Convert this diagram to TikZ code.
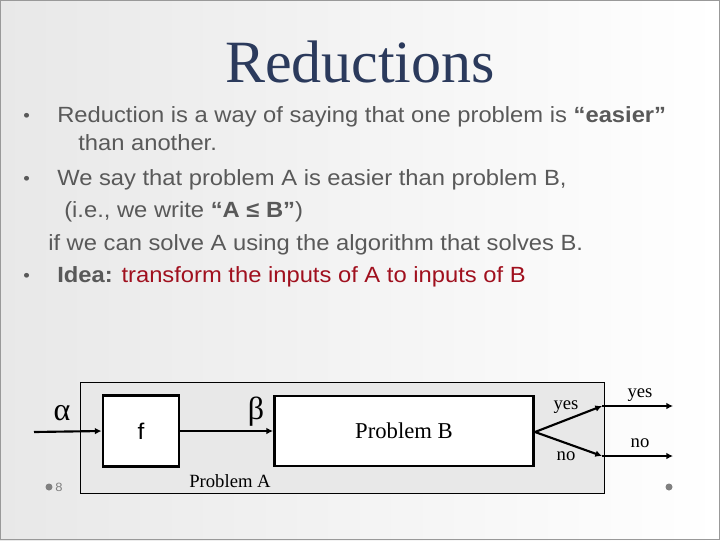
\documentclass[tikz,border=0pt]{standalone}
\usepackage{fontspec}
\setmainfont{Liberation Serif}
\setsansfont{Liberation Sans}[FakeStretch=1.08]
\usetikzlibrary{arrows.meta}
\definecolor{txt}{HTML}{595959}
\definecolor{ttl}{HTML}{2B3A5C}
\definecolor{red}{HTML}{A0101E}
\begin{document}
\begin{tikzpicture}[x=0.75pt,y=-0.75pt,
  bul/.style={anchor=base west,inner sep=0,text=txt,font=\sffamily\fontsize{16.5}{18}\selectfont},
  dot/.style={anchor=base west,inner sep=0,text=txt,font=\sffamily\fontsize{13}{14}\selectfont},
  blk/.style={draw,line width=2.2pt,fill=white,inner sep=0},
  lab/.style={font=\fontsize{14}{16}\selectfont,inner sep=0},
  arr/.style={line width=1.6pt,-{Latex[length=5pt,width=5pt]}}]
\useasboundingbox (0,0) rectangle (720,540);
\shade[left color=gray!18,right color=white] (0,0) rectangle (720,540);
\draw[gray!80,line width=1pt] (0.5,0.5) rectangle (719.5,539.5);
\node[inner sep=0,text=ttl,font=\fontsize{45}{50}\selectfont] (title) at (360,62) {Reductions};
\node[dot] (b1) at (23,121) {•};
\node[bul] (t1) at (57,122) {Reduction is a way of saying that one problem is \textbf{“easier”}};
\node[bul] (t1b) at (78,150) {than another.};
\node[dot] (b2) at (23,184) {•};
\node[bul] (t2) at (57,185) {We say that problem A is easier than problem B,};
\node[bul] (t2b) at (64,217) {(i.e., we write \textbf{“A ≤ B”})};
\node[bul] (t2c) at (48,250) {if we can solve A using the algorithm that solves B.};
\node[dot] (b3) at (23,281) {•};
\node[bul] (t3) at (57,282) {\textbf{Idea:} \textcolor{red}{transform the inputs of A to inputs of B}};
% diagram
\node[draw,fill=gray!18,line width=0.8pt,minimum width=393pt,minimum height=83.25pt,inner sep=0,anchor=north west] (pa) at (80,382) {};
\node[blk,minimum width=57pt,minimum height=53.25pt] (f) at (141,431) {\sffamily\fontsize{17}{18}\selectfont f};
\node[blk,minimum width=194.25pt,minimum height=52.5pt] (pb) at (404,431) {\fontsize{17}{18}\selectfont Problem B};
\coordinate (in) at (34,432);
\coordinate (fork) at (535,432);
\coordinate (ys) at (602,406);
\coordinate (ns) at (602,456);
\coordinate (ye) at (673,406);
\coordinate (ne) at (673,456);
\draw[arr] (in) -- (f.west);
\draw[arr] (f.east) -- (pb.west);
\draw[arr] (fork) -- (ys);
\draw[arr] (fork) -- (ns);
\draw[arr] (ys) -- (ye);
\draw[arr] (ns) -- (ne);
\node[lab,font=\fontsize{24}{26}\selectfont] (al) at (62,413) {α};
\node[lab,font=\fontsize{24}{26}\selectfont] (be) at (256,412) {β};
\node[lab] (y1) at (566,407) {yes};
\node[lab] (n1) at (566,456) {no};
\node[lab] (y2) at (640,395) {yes};
\node[lab] (n2) at (640,443) {no};
\node[lab] (pal) at (230,481) {Problem A};
\fill[gray] (49,487) circle (3.5);
\node[inner sep=0,text=gray,font=\sffamily\fontsize{9}{10}\selectfont] (pg) at (59,487) {8};
\fill[gray] (669,487) circle (3.5);
\end{tikzpicture}
\end{document}
